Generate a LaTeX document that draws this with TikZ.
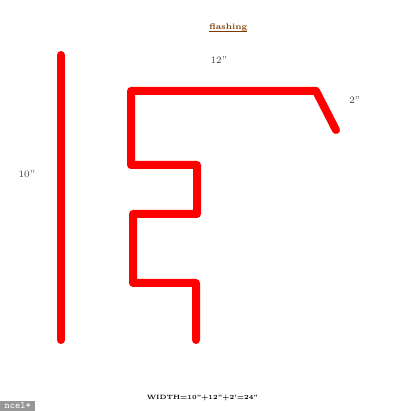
\documentclass[tikz,border=0pt]{standalone}
\definecolor{titlebrown}{RGB}{125,60,0}
\definecolor{tabgray}{RGB}{150,150,150}
\tikzset{
  metal/.style={draw=red,line width=0.2cm,line cap=round,line join=round},
  dimlabel/.style={inner sep=0pt,font=\fontsize{7}{8}\selectfont,text=black!75},
}
\begin{document}
\begin{tikzpicture}

      \useasboundingbox (0,0) rectangle (10.3,10.275);

      % Nodes
      \node[inner sep=0pt,font=\bfseries\fontsize{5.8}{8}\selectfont,text=titlebrown] (title) at (5.71,9.5) {\underline{\smash{flashing}}};
      \node[dimlabel] (top) at (5.47,8.77) {12''};
      \node[dimlabel] (lip) at (8.87,7.78) {2''};
      \node[dimlabel] (side) at (0.67,5.93) {10''};
      \node[inner sep=0pt,font=\bfseries\fontsize{4.4}{6}\selectfont] (width) at (5.06,0.33) {WIDTH=10''+12''+2'=24''};
      \node[fill=tabgray,text=white,anchor=south west,minimum width=0.875cm,minimum height=0.25cm,inner sep=0pt,font=\ttfamily\fontsize{7}{8}\selectfont] (tab) at (0,0) {ncel*};

      % Corners
      \coordinate (a1) at (1.525,8.9);
      \coordinate (a2) at (1.525,1.775);

      \coordinate (b1) at (8.4,7.025);
      \coordinate (b2) at (7.9,8);
      \coordinate (b3) at (3.275,8);
      \coordinate (b4) at (3.275,6.15);
      \coordinate (b5) at (4.925,6.15);
      \coordinate (b6) at (4.925,4.925);
      \coordinate (b7) at (3.325,4.925);
      \coordinate (b8) at (3.325,3.2);
      \coordinate (b9) at (4.9,3.2);
      \coordinate (b10) at (4.9,1.775);

      % Edges
      \draw[metal] (a1) -- (a2);
      \draw[metal] (b1) -- (b2) -- (b3) -- (b4) -- (b5) -- (b6) -- (b7) -- (b8) -- (b9) -- (b10);

    \end{tikzpicture}
\end{document}
